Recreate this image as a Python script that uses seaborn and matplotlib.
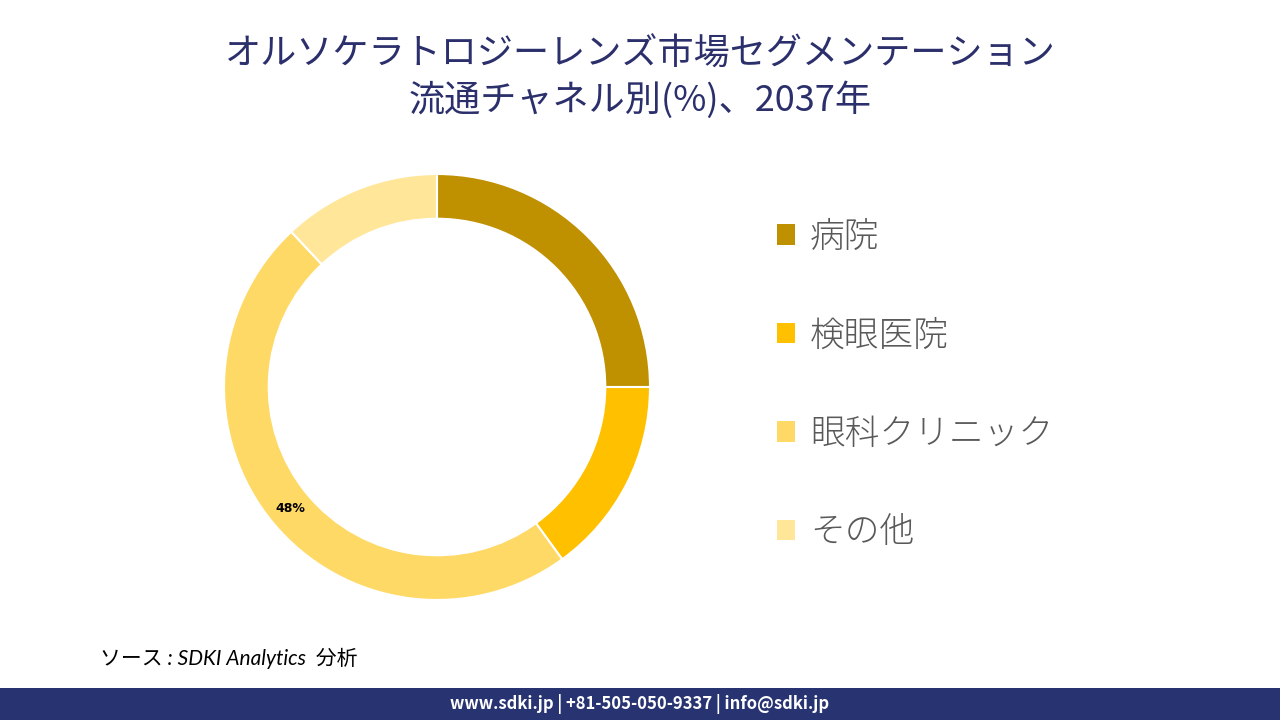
import matplotlib
matplotlib.use("Agg")
import matplotlib.pyplot as plt
import seaborn as sns
from matplotlib.patches import Patch, Rectangle
import numpy as np

sns.set_theme(style="white")
plt.rcParams['font.family'] = ['Noto Sans CJK JP', 'DejaVu Sans']

categories = ["病院", "検眼医院", "眼科クリニック", "その他"]
values = [25, 15, 48, 12]
colors = ["#BF9000", "#FFC000", "#FFD966", "#FFE699"]
shown_labels = {"眼科クリニック": "48%"}

title_line1 = "オルソケラトロジーレンズ市場セグメンテーション"
title_line2 = "流通チャネル別(%)、2037年"
source_text = "ソース : SDKI Analytics  分析"
footer_text = "www.sdki.jp | +81-505-050-9337 | info@sdki.jp"

fig = plt.figure(figsize=(12.8, 7.2), dpi=100)
fig.patch.set_facecolor("white")

ax = fig.add_axes([224/1280, 120/720, 426/1280, 426/720])
ring_w = 0.21
wedges, _ = ax.pie(values, colors=colors, startangle=90, counterclock=False,
                   radius=1.0, wedgeprops=dict(width=ring_w, edgecolor="white", linewidth=1.5))
ax.set_xlim(-1, 1)
ax.set_ylim(-1, 1)
ax.set_aspect("equal")
ax.axis("off")

for w, cat in zip(wedges, categories):
    if cat in shown_labels:
        th = np.deg2rad((w.theta1 + w.theta2) / 2)
        r = 1 - ring_w / 2
        ax.text(r * np.cos(th), r * np.sin(th), shown_labels[cat], ha="center", va="center",
                fontsize=9, fontweight="bold", color="black", family=["DejaVu Sans"])

handles = [Patch(facecolor=c, edgecolor="none") for c in colors]
leg = fig.legend(handles, categories, loc="center left", bbox_to_anchor=(0.607, 0.466),
                 frameon=False, fontsize=25, handlelength=0.52, handleheight=0.52,
                 handletextpad=0.43, labelspacing=1.8, borderpad=0, borderaxespad=0)
for t in leg.get_texts():
    t.set_color("#595959")
    t.set_fontweight("light")

fig.text(0.5, 1 - 55/720, title_line1, ha="center", va="center", fontsize=26, color="#2B2F6B")
fig.text(0.5, 1 - 100/720, title_line2, ha="center", va="center", fontsize=26, color="#2B2F6B")

fig.text(100/1280, 1 - 658/720, source_text, ha="left", va="center", fontsize=15,
         style="italic", color="black", family=["Lato", "Noto Sans CJK JP"])

fig.add_artist(Rectangle((0, 0), 1, 32/720, transform=fig.transFigure,
                         facecolor="#283471", edgecolor="none"))
fig.text(0.5, 16/720, footer_text, ha="center", va="center", fontsize=12,
         fontweight="bold", color="white")

fig.savefig("out.png", dpi=100)
